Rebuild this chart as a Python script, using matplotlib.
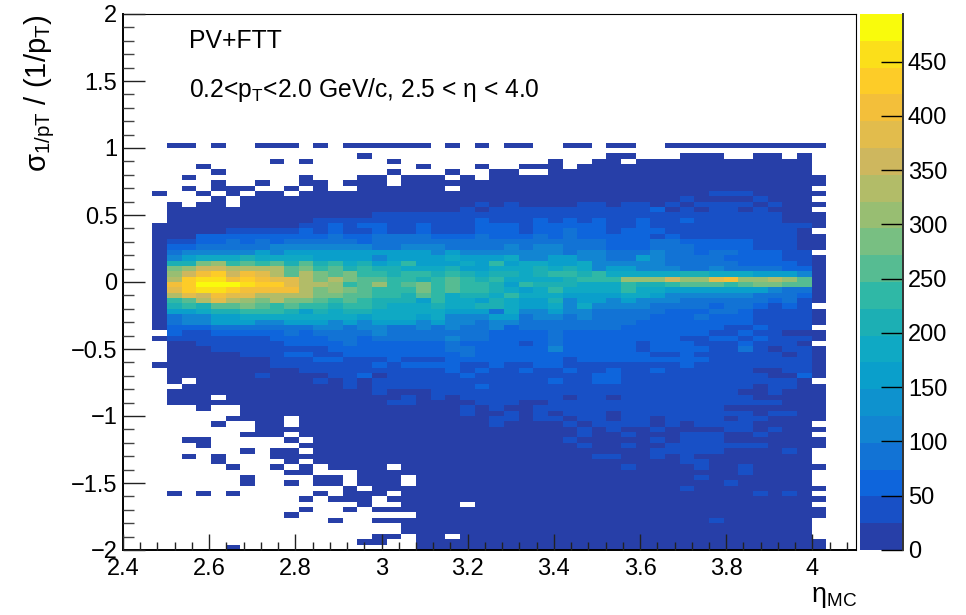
import matplotlib
matplotlib.use("Agg")
import matplotlib.pyplot as plt
import numpy as np
from matplotlib.colors import BoundaryNorm, ListedColormap
from matplotlib.ticker import FixedLocator

plt.rcParams["font.family"] = "Liberation Sans"
plt.rcParams["mathtext.fontset"] = "custom"
plt.rcParams["mathtext.rm"] = "Liberation Sans"
plt.rcParams["mathtext.it"] = "Liberation Sans"
plt.rcParams["mathtext.bf"] = "Liberation Sans"
plt.rcParams["mathtext.default"] = "regular"

# one char per eta bin, top row first: '.' is an empty bin, the rest name a colour contour (see level_chars)
rows = [
	".00.0..000 .0.000000. 0.0.00..00 .00..00000 000000",
	".......... .......... .......... .......... ......",
	".......... ....0..... .......... .00...000. .00.0.",
	"........0. 0.....0... .......0.. 00.0000000 00000.",
	"...0...... ........0. ..0..000.0 0000000000 00000.",
	"....0..... ......0... 0..00..000 0000000000 00000.",
	"..0....... 0...00.000 .0.0000000 0000000000 000000",
	"....0..0.. 00.000.000 0000000000 0000000000 000000",
	"..0.000..0 .0..000000 .000000000 0000000000 00000.",
	"0..0.0.00. 0000000000 0000000000 0000000011 100000",
	"....0.0000 0000000000 0000000000 0000001000 01000.",
	".0.00.0000 0000000000 0010100001 1011010111 101000",
	".000000000 0000000000 0101111111 1111201011 01000.",
	".000000000 0000011111 1111111111 1111111111 111000",
	".000000000 0111111111 1121112121 2112112111 111000",
	"0000000000 1121221121 1122212222 2112111111 111110",
	"0000011111 2121121121 1122212232 2122211111 11110.",
	"0002222222 2232233332 2232223232 2222121111 111100",
	"0112232323 3333233333 3333333333 3222332222 211100",
	"0223333344 4444433444 3333434433 3222333222 211100",
	"0344444545 5555555554 5444444434 4333433233 22211.",
	"0456667666 6555545555 6555644554 4335433332 222110",
	"077ab89897 9786756855 5658566556 4444433333 222210",
	"0abddcccc9 a897877666 7556667676 4554443343 333220",
	"0bdfgdfec9 ca9a887887 8767767887 8666667766 655540",
	"0cghhfgfee caca998878 9878666678 88bbbdbbef bbcb90",
	"0fgjjjhgge ccb89b89a8 9887587776 6687789998 9aa990",
	"0eghhgffff caba9888a8 9887656866 6686655555 554330",
	"0cedfeeccc caa9988798 6776866655 5566544444 433320",
	"089cecbaca a989877758 6657655745 5454443333 332310",
	"078799a989 8878876667 6677655646 4444333323 32121.",
	"0556778887 5767766666 5553644544 3333322233 211110",
	"0344556666 6666566656 4445534434 3333222322 211110",
	"0344555445 5545455545 4434433333 3332222222 211110",
	"0222333333 3443443343 4334233333 3322222221 12111.",
	".211222223 2333343333 3332222322 2222222211 211000",
	"0111111122 2233233333 4332222322 2222221122 121110",
	".001111112 2223222222 3222212322 2221222111 21110.",
	".000111111 1122222222 3322222422 2221222211 310110",
	".000001112 2112222222 2322222222 2222112111 111010",
	".000000011 1221112111 2222222212 2222222211 111110",
	"0000000011 1111121222 2112112211 1111112111 111110",
	".000000000 1111111111 2121121121 1211211111 100110",
	".000000100 0011201111 1211111111 2211111111 110020",
	".0.0000000 0101011111 1111111211 2211111111 11110.",
	"..00000000 0001011111 1121111111 1111111111 101100",
	".000000000 0000010001 1111111111 1111111111 001000",
	".000.00000 0000000101 0111111101 1011111111 100000",
	".000000000 0000001100 0011100111 1111111111 111000",
	"...0..0000 0000000000 0101001111 1111111110 000000",
	"......0000 0000000000 0100101011 1011111111 101100",
	".....0000. 0000000000 0001101101 1011011110 110000",
	"....0..00. 0000000000 0001000010 1111010111 10000.",
	".......000 0000000000 0000000001 0100100001 101000",
	"......000. 0000000000 0000000001 0010001110 01000.",
	"..00.....0 .000000000 0000000010 0000101110 000000",
	"...0...... 0000000000 0000000001 0010011111 110000",
	"......0.00 .000000000 0000000000 0000111110 00010.",
	"..0.0...00 0000000000 0000000000 1100101000 00000.",
	"....0....0 .000000000 0000000000 0000001100 00000.",
	".....0..0. 0.0000.000 0000000000 0010000100 100000",
	".........0 0...000000 0000000000 0000000000 10000.",
	"......0... .00.000.00 0000000000 0000000100 00000.",
	"......0..0 .00.000.00 0000000000 0000000001 00000.",
	".......... ...0.00000 0000000000 0000001000 000000",
	".0.0.0.... .0.000.000 0000000000 0000000000 01010.",
	".......... 0.000.0000 0000000000 0000000000 000000",
	".......... ....0..000 0.00000000 0000000000 00000.",
	".......... 0..0.00000 0000000000 0000000000 000000",
	".........0 ........00 0000000000 0000000000 000000",
	".......... ..0..00000 0000000000 0000000010 00000.",
	".......... .......000 0000000000 0000000000 00000.",
	".......... .......000 0000000000 0000000000 00000.",
	".......... .....00.00 .000000000 0000000000 00000.",
	".......... ....00..00 0000000000 0000000000 000000",
	".....0.... ........00 0000000000 0000000000 000000",
]

# contour index -> char used in rows, '_' is a contour no cell was read as
level_chars = "01234_56789abcdefghj"
z_max = 494.0
n_levels = 20
colors = [
	"#273FA8", "#1850C6", "#0E65DC", "#1273D5", "#1285D2",
	"#0E92CE", "#0A9FCB", "#0FA9C4", "#1CAFB4", "#2FB8A6",
	"#56BC92", "#78BF82", "#98BE72", "#B2BC68", "#CEB75E",
	"#E2BC4C", "#F3BF3A", "#FDCC28", "#FBDF1A", "#F9FB0C",
]
x_ticks = [2.4, 2.6, 2.8, 3.0, 3.2, 3.4, 3.6, 3.8, 4.0]
x_labels = ["2.4", "2.6", "2.8", "3", "3.2", "3.4", "3.6", "3.8", "4"]
y_ticks = [-2, -1.5, -1, -0.5, 0, 0.5, 1, 1.5, 2]
y_labels = ["\u22122", "\u22121.5", "\u22121", "\u22120.5", "0", "0.5", "1", "1.5", "2"]
z_ticks = [0, 50, 100, 150, 200, 250, 300, 350, 400, 450]


def main():
	step = z_max / n_levels
	table = [r.replace(" ", "") for r in rows][::-1]
	z = np.full((len(table), len(table[0])), np.nan)
	for j, r in enumerate(table):
		for i, c in enumerate(r):
			if c != ".":
				z[j, i] = (level_chars.index(c) + 0.5) * step
	z = np.ma.masked_invalid(z)

	x_edges = 2.468 + 0.034 * np.arange(z.shape[1] + 1)
	y_edges = -2 + 0.04 * np.arange(z.shape[0] + 1)

	W, H = 966, 615
	fig = plt.figure(figsize=(W / 100, H / 100), dpi=100)
	ax = fig.add_axes([123 / W, (H - 550) / H, 732.5 / W, 536 / H])
	cax = fig.add_axes([860 / W, (H - 550) / H, 43 / W, 536 / H])

	cmap = ListedColormap(colors)
	norm = BoundaryNorm(np.arange(n_levels + 1) * step, n_levels)
	mesh = ax.pcolormesh(x_edges, y_edges, z, cmap=cmap, norm=norm, linewidth=0, rasterized=True)

	ax.set_xlim(2.4, 4.1)
	ax.set_ylim(-2, 2)
	ax.set_xticks(x_ticks)
	ax.set_xticklabels(x_labels, fontsize=17)
	ax.set_yticks(y_ticks)
	ax.set_yticklabels(y_labels, fontsize=17)
	ax.xaxis.set_minor_locator(FixedLocator(2.4 + 0.04 * np.arange(43)))
	ax.yaxis.set_minor_locator(FixedLocator(-2 + 0.1 * np.arange(41)))
	ax.tick_params(axis="x", which="major", direction="in", length=11.5, width=1, pad=6, color="#222222")
	ax.tick_params(axis="x", which="minor", direction="in", length=5.8, width=1, color="#222222")
	ax.tick_params(axis="y", which="major", direction="in", length=15.8, width=1, pad=4, color="#222222")
	ax.tick_params(axis="y", which="minor", direction="in", length=7.9, width=1, color="#444444")
	for s in ["left", "bottom"]:
		ax.spines[s].set_linewidth(1.4)
	for s in ["top", "right"]:
		ax.spines[s].set_linewidth(0.8)
	ax.set_axisbelow(False)

	cb = fig.colorbar(mesh, cax=cax, ticks=z_ticks, spacing="proportional", drawedges=False)
	cb.minorticks_off()
	cb.outline.set_visible(False)
	cax.tick_params(axis="y", direction="in", length=15.8, width=1, pad=3.5, labelsize=17, right=True)
	cax.axvline(1, color="#333333", linewidth=1.4, clip_on=False)

	fig.text(189 / W, 1 - 41 / H, "PV+FTT", fontsize=17.8, ha="left", va="center")
	fig.text(189 / W, 1 - 90 / H, "0.2<p$_{T}$<2.0 GeV/c, 2.5 < \u03b7 < 4.0", fontsize=17.7, ha="left", va="center")
	fig.text(57 / W, 1 - 14 / H, "$\u03c3_{1/pT}$ / (1/p$_{T}$)", fontsize=21, rotation=90, ha="right", va="top")
	fig.text(857 / W, 1 - 610 / H, "\u03b7$_{MC}$", fontsize=19.5, ha="right", va="bottom")

	fig.savefig("out.png", dpi=100)


if __name__ == '__main__':
	main()
